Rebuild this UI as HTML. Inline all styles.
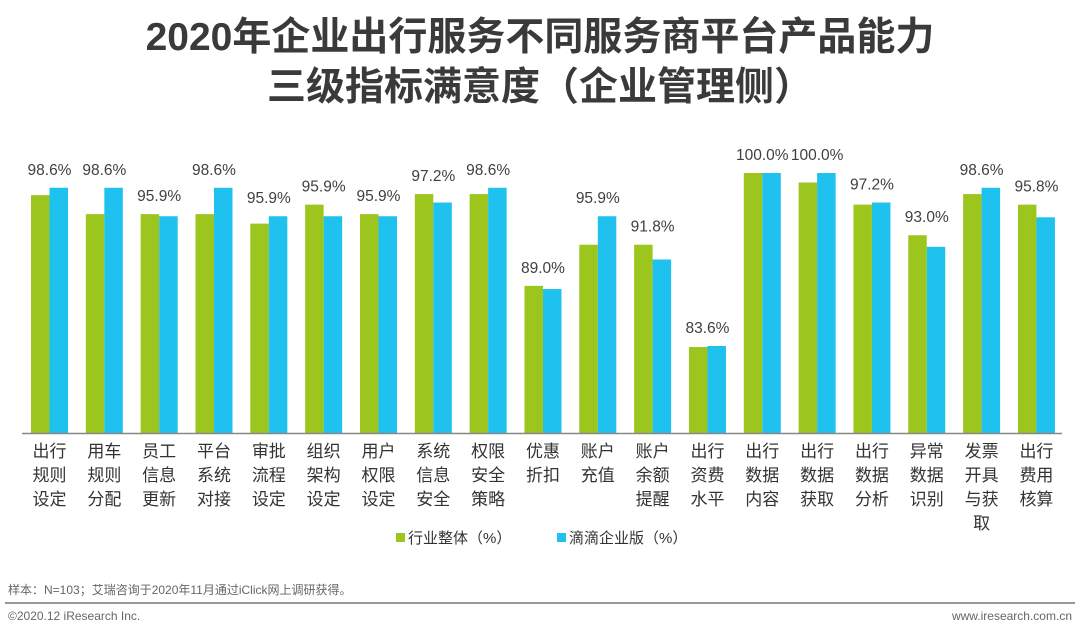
<!DOCTYPE html>
<html><head><meta charset="utf-8">
<style>
body{margin:0;width:1080px;height:635px;background:#fff;font-family:"Liberation Sans","Noto Sans CJK SC",sans-serif;overflow:hidden;position:relative}
.title{position:absolute;left:0;width:1080px;text-align:center;font-size:39px;font-weight:bold;color:#3a3a3a;line-height:50px}
.ft{position:absolute;font-size:12px;color:#666}
</style></head><body>
<div class="title" style="top:13px">2020年企业出行服务不同服务商平台产品能力<br>三级指标满意度（企业管理侧）</div>
<svg id="chart" width="1080" height="560" style="position:absolute;left:0;top:0"></svg>
<div class="ft" style="left:8px;top:581px">样本：N=103；艾瑞咨询于2020年11月通过iClick网上调研获得。</div>
<div style="position:absolute;left:5px;top:602px;width:1070px;height:2px;background:#999"></div>
<div class="ft" style="left:8px;top:609px">©2020.12 iResearch Inc.</div>
<div class="ft" style="right:8px;top:609px">www.iresearch.com.cn</div>
<script>
const categories=["出行规则设定","用车规则分配","员工信息更新","平台系统对接","审批流程设定","组织架构设定","用户权限设定","系统信息安全","权限安全策略","优惠折扣","账户充值","账户余额提醒","出行资费水平","出行数据内容","出行数据获取","出行数据分析","异常数据识别","发票开具与获取","出行费用核算"];
const industry=[97.9,96.1,96.1,96.1,95.2,97.0,96.1,98.0,98.0,89.3,93.2,93.2,83.5,100,99.1,97.0,94.1,98.0,97.0];
const didi=[98.6,98.6,95.9,98.6,95.9,95.9,95.9,97.2,98.6,89.0,95.9,91.8,83.6,100,100,97.2,93.0,98.6,95.8];
const legendLabels=["行业整体（%）","滴滴企业版（%）"];
const NS="http://www.w3.org/2000/svg";
const svg=document.getElementById('chart');
const vMin=75.35,vMax=100,yBase=433,yTop=173;
const y=v=>yBase-(v-vMin)/(vMax-vMin)*(yBase-yTop);
const pitch=54.83,x0=31,bw=18.5;
const gx=i=>x0+i*pitch;
function el(t,a){const e=document.createElementNS(NS,t);for(const k in a)e.setAttribute(k,a[k]);svg.appendChild(e);return e;}
categories.forEach((c,i)=>{
  const g=el('rect',{x:gx(i),y:y(industry[i]),width:bw,height:yBase-y(industry[i]),fill:'#9cc61d'});
  
  
  const d=el('rect',{x:gx(i)+bw,y:y(didi[i]),width:bw,height:yBase-y(didi[i]),fill:'#1fc1ef'});
  
  
  const t=el('text',{x:gx(i)+bw,y:Math.min(y(industry[i]),y(didi[i]))-13,'text-anchor':'middle','font-size':'15.5',fill:'#404040'});
  t.textContent=didi[i].toFixed(1)+'%';
  
  
  for(let k=0;k*2<c.length;k++){
    const lt=el('text',{x:gx(i)+bw,y:457+k*24,'text-anchor':'middle','font-size':'17',fill:'#333'});
    lt.textContent=c.substr(k*2,2);
    
    
  }
});
const ax=el('line',{x1:22,x2:1062,y1:yBase+0.5,y2:yBase+0.5,stroke:'#888','stroke-width':1.5});


const lc=['#9cc61d','#1fc1ef'],lx=[396,557];
legendLabels.forEach((l,i)=>{
  const r=el('rect',{x:lx[i],y:533,width:9,height:9,fill:lc[i]});
  
  
  const t=el('text',{x:lx[i]+12,y:543,'font-size':'15',fill:'#333'});
  t.textContent=l;
  
  
});
</script>
</body></html>
